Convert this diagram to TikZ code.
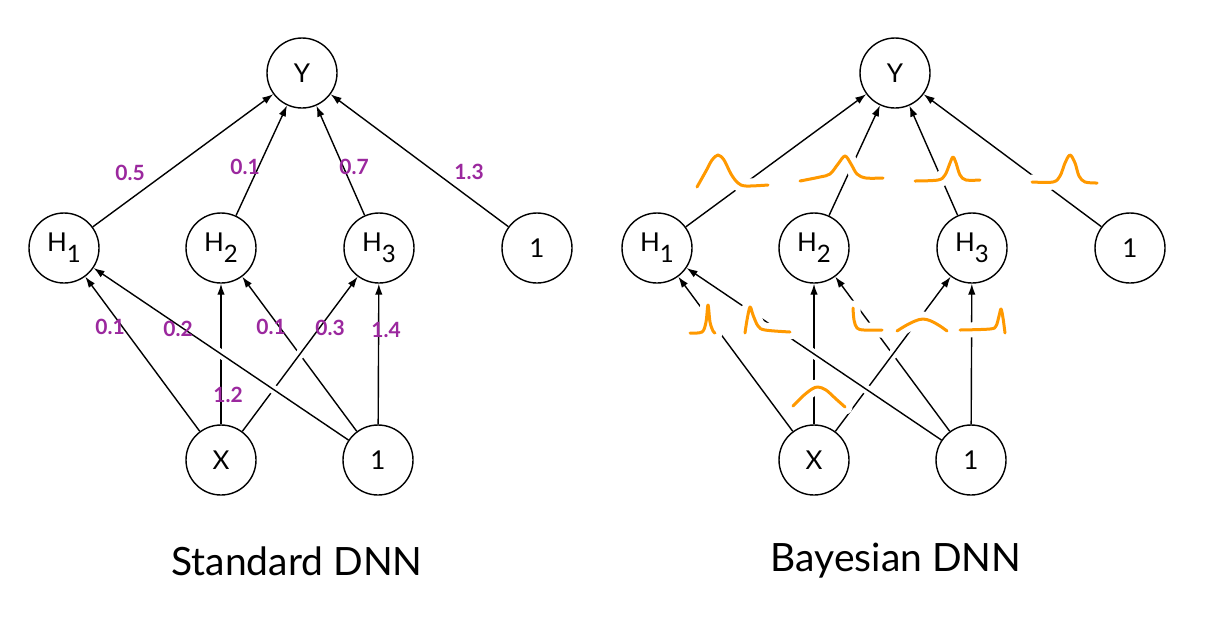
\documentclass[tikz,border=0pt]{standalone}
\usepackage{fontspec}
\setmainfont{Lato}
\usetikzlibrary{arrows.meta}
\definecolor{wpurple}{RGB}{155,40,158}
\definecolor{gorange}{RGB}{255,153,0}
\newcommand{\hsub}[1]{\raisebox{-11pt}{\fontsize{24}{24}\selectfont #1}}
\begin{document}
\begin{tikzpicture}[x=1pt,y=-1pt,
  neuron/.style={circle,draw,line width=1.4pt,minimum size=70pt,inner sep=0pt,font=\fontsize{26}{28}\selectfont},
  edge/.style={line width=1.4pt,-{Latex[length=11pt,width=7.5pt]}},
  over/.style={preaction={draw=white,line width=9pt,arrows=-,shorten <=38pt,shorten >=38pt}},
  wlabel/.style={text=wpurple,font=\bfseries\fontsize{21}{23}\selectfont,inner sep=0pt},
  gauss/.style={draw=gorange,line width=3pt,line cap=round,line join=round,
    preaction={draw=white,line width=15pt,line cap=round}},
  title/.style={font=\fontsize{39}{44}\selectfont,inner sep=0pt}
]
\useasboundingbox[fill=white] (0,0) rectangle (1222,630);

\foreach \o/\p in {0/L,593/R}{
  \node[neuron] (\p Y)  at ({302+\o},73)  {Y};
  \node[neuron] (\p H1) at ({64+\o},248)  {H\hsub{1}};
  \node[neuron] (\p H2) at ({221+\o},248) {H\hsub{2}};
  \node[neuron] (\p H3) at ({379+\o},248) {H\hsub{3}};
  \node[neuron] (\p B1) at ({537+\o},248) {1};
  \node[neuron] (\p X)  at ({221+\o},460) {X};
  \node[neuron] (\p B0) at ({378+\o},460) {1};
  \draw[edge] (\p H1) -- (\p Y);
  \draw[edge] (\p H2) -- (\p Y);
  \draw[edge] (\p H3) -- (\p Y);
  \draw[edge] (\p B1) -- (\p Y);
  \draw[edge] (\p X) -- (\p H1);
  \draw[edge] (\p B0) -- (\p H2);
  \draw[edge,over] (\p X) -- (\p H3);
  \draw[edge] (\p X) -- (\p H2);
  \draw[edge,over] (\p B0) -- (\p H1);
  \draw[edge] (\p B0) -- (\p H3);
}

% weights of the standard DNN
\node[wlabel] (w1) at (130,173) {0.5};
\node[wlabel] (w2) at (245,167) {0.1};
\node[wlabel] (w3) at (354,167) {0.7};
\node[wlabel] (w4) at (469,172) {1.3};
\node[wlabel] (w5) at (110,327) {0.1};
\node[wlabel] (w6) at (178,329) {0.2};
\node[wlabel] (w7) at (228,395) {1.2};
\node[wlabel] (w8) at (271,327) {0.1};
\node[wlabel] (w9) at (330,328) {0.3};
\node[wlabel] (w10) at (386,330) {1.4};

% weight distributions of the Bayesian DNN
\draw[gauss] plot[smooth,tension=0.55] coordinates {(697,187) (706,171) (712,160) (718,155) (724,160) (731,174) (738,183) (746,186) (768,185)};
\draw[gauss] plot[smooth,tension=0.55] coordinates {(800,181) (820,177) (830,174) (838,164) (845,156) (851,164) (857,174) (866,178) (883,178)};
\draw[gauss] plot[smooth,tension=0.55] coordinates {(915,181) (938,180) (945,175) (950,163) (953,157) (956,163) (960,175) (966,180) (980,180)};
\draw[gauss] plot[smooth,tension=0.55] coordinates {(1032,182) (1053,182) (1060,176) (1065,163) (1070,155) (1075,163) (1079,176) (1085,182) (1097,183)};
\draw[gauss] plot[smooth,tension=0.55] coordinates {(690,333) (702,332) (706,322) (708,305) (710,322) (713,331) (715,333)};
\draw[gauss] plot[smooth,tension=0.55] coordinates {(745,333) (747,320) (750,307) (753,315) (758,326) (765,330) (790,332)};
\draw[gauss] plot[smooth,tension=0.55] coordinates {(853,308) (854,320) (857,328) (864,330) (882,330)};
\draw[gauss] plot[smooth,tension=0.55] coordinates {(897,331) (905,326) (915,321) (923,319) (931,321) (940,326) (947,331)};
\draw[gauss] plot[smooth,tension=0.55] coordinates {(960,330) (990,329) (996,326) (999,316) (1001,309) (1003,318) (1005,333)};
\draw[gauss] plot[smooth,tension=0.55] coordinates {(793,406) (803,396) (812,389) (818,387) (826,390) (836,399) (845,407)};

\node[title] (t1) at (297,561) {Standard DNN};
\node[title] (t2) at (896,561) {Bayesian DNN};
\end{tikzpicture}
\end{document}
